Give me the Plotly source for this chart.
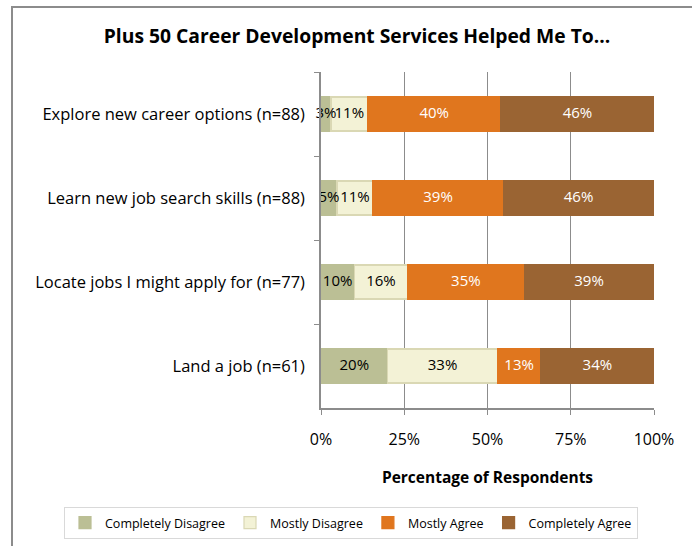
import plotly.graph_objects as go

categories = [
    "Explore new career options (n=88)",
    "Learn new job search skills (n=88)",
    "Locate jobs I might apply for (n=77)",
    "Land a job (n=61)",
]
series_names = ["Completely Disagree", "Mostly Disagree", "Mostly Agree", "Completely Agree"]
completely_disagree = [3, 4.8, 10, 20]
mostly_disagree = [11, 10.8, 16, 33]
mostly_agree = [40, 39.1, 35, 13]
completely_agree = [46, 45.3, 39, 34]
labels_cd = ["3%", "5%", "10%", "20%"]
labels_md = ["11%", "11%", "16%", "33%"]
labels_ma = ["40%", "39%", "35%", "13%"]
labels_ca = ["46%", "46%", "39%", "34%"]
tick_vals = [0, 25, 50, 75, 100]
tick_text = ["0%", "25%", "50%", "75%", "100%"]

FONT = "Open Sans"
colors = ["#BBBF95", "#F3F2D6", "#E0761E", "#9A6433"]
line_colors = ["#BBBF95", "#DAD8B4", "#E0761E", "#9A6433"]
text_colors = ["#000000", "#000000", "#FFFFFF", "#FFFFFF"]
values = [completely_disagree, mostly_disagree, mostly_agree, completely_agree]
labels = [labels_cd, labels_md, labels_ma, labels_ca]

fig = go.Figure()
for name, vals, c, lc in zip(series_names, values, colors, line_colors):
    fig.add_trace(go.Bar(
        y=categories, x=vals, name=name, orientation="h",
        marker=dict(color=c, line=dict(color=lc, width=1.2)),
        hoverinfo="x+name",
    ))

# value labels drawn on top of all bars, centred on each segment
lab_x, lab_y, lab_t, lab_c = [], [], [], []
for i, cat in enumerate(categories):
    start = 0
    for vals, txt, tc in zip(values, labels, text_colors):
        lab_x.append(start + vals[i] / 2)
        lab_y.append(cat)
        lab_t.append(txt[i])
        lab_c.append(tc)
        start += vals[i]
fig.add_trace(go.Scatter(
    x=lab_x, y=lab_y, text=lab_t, mode="text", showlegend=False,
    textposition="middle center", hoverinfo="skip", cliponaxis=False,
    textfont=dict(family=FONT, size=15, color=lab_c),
))

fig.update_layout(
    width=692, height=546,
    margin=dict(l=321, r=38, t=72, b=138, autoexpand=False),
    barmode="stack", bargap=0.595,
    paper_bgcolor="white", plot_bgcolor="white",
    font=dict(family=FONT, size=13, color="#000000"),
    title=dict(text="<b>Plus 50 Career Development Services Helped Me To...</b>",
               x=357/692, xref="container", xanchor="center",
               y=1-36/546, yref="container", yanchor="middle",
               font=dict(family=FONT, size=19.3, color="#000000")),
    xaxis=dict(range=[0, 100], tickvals=tick_vals, ticktext=tick_text,
               showgrid=True, gridcolor="#8C8C8C", gridwidth=1,
               showline=True, linecolor="#8C8C8C", linewidth=1.5,
               ticks="outside", ticklen=5, tickcolor="#8C8C8C",
               ticklabelstandoff=11,
               tickfont=dict(family=FONT, size=16), zeroline=False,
               title=dict(text="<b>Percentage of Respondents</b>",
                          font=dict(family=FONT, size=15.5), standoff=23)),
    yaxis=dict(categoryorder="array", categoryarray=categories, autorange="reversed",
               showline=True, linecolor="#8C8C8C", linewidth=1.5,
               ticks="outside", ticklen=5, tickcolor="#8C8C8C", tickson="boundaries",
               ticklabelstandoff=11,
               tickfont=dict(family=FONT, size=16.5), showgrid=False),
    legend=dict(orientation="h", xref="paper", x=(64-321)/333, xanchor="left",
                yref="paper", y=(408-523)/336, yanchor="middle",
                bordercolor="#D9D9D9", borderwidth=1,
                font=dict(family=FONT, size=12.5), traceorder="normal",
                itemwidth=30),
    shapes=[dict(type="rect", xref="paper", yref="paper",
                 x0=(12-321)/333, x1=1.6,
                 y0=-0.8, y1=(408-7)/336,
                 line=dict(color="#8C8C8C", width=2), fillcolor="rgba(0,0,0,0)",
                 layer="below")],
)

fig.write_html("out.html")
